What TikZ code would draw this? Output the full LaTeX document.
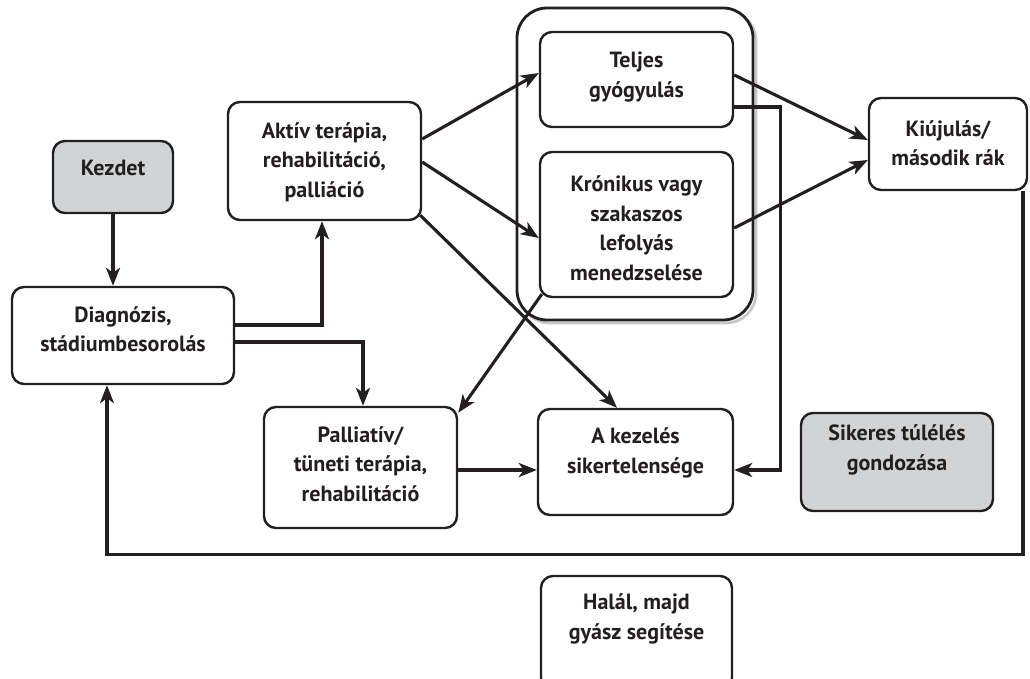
\documentclass[tikz,border=0pt]{standalone}
\usepackage{fontspec}
\setmainfont{PT Sans}
\usetikzlibrary{arrows.meta}
\definecolor{ink}{HTML}{231F20}
\definecolor{boxgrey}{HTML}{D1D3D4}
\begin{document}
\begin{tikzpicture}[x=1pt, y=-1pt,
  box/.style={draw=ink, line width=2.4pt, rounded corners=12pt, fill=white, inner sep=0pt},
  greybox/.style={box, fill=boxgrey},
  txt/.style={align=center, text=ink, inner sep=0pt,
    font=\bfseries\fontsize{22}{29.5}\selectfont},
  conn/.style={draw=ink, line width=3.1pt, line join=miter,
    -{Stealth[length=18pt, width=14pt, inset=5pt]}}]
  \useasboundingbox (0,0) rectangle (1030,679);

  % group frame around the two outcome boxes, with its light shadow
  \draw[black!22, line width=2.8pt, rounded corners=30pt] (520,11) rectangle (756,323);
  \node[draw=ink, fill=white, line width=2.8pt, rounded corners=30pt, minimum width=236pt,
        minimum height=312pt, inner sep=0pt] (group) at (635,164) {};

  % boxes
  \node[greybox, minimum width=120pt, minimum height=72pt]  (kezdet)  at (113,177) {};
  \node[box, minimum width=222pt, minimum height=97pt]      (diag)    at (123,335.5) {};
  \node[box, minimum width=193pt, minimum height=118pt]     (aktiv)   at (324.5,161) {};
  \node[box, minimum width=193pt, minimum height=95pt]      (teljes)  at (636.5,79.5) {};
  \node[box, minimum width=193pt, minimum height=145pt]     (kronik)  at (636.5,224.5) {};
  \node[box, minimum width=158pt, minimum height=92pt]      (kiujul)  at (948,144) {};
  \node[box, minimum width=193pt, minimum height=121pt]     (pallia)  at (360.5,467.5) {};
  \node[box, minimum width=195pt, minimum height=106pt]     (kezel)   at (635.5,462) {};
  \node[greybox, minimum width=192pt, minimum height=98pt]  (sikeres) at (897,462) {};
  \node[box, minimum width=191pt, minimum height=114pt]     (halal)   at (636.5,633) {};

  % texts
  \node[txt] (kezdetT)  at (113,168)   {Kezdet};
  \node[txt] (diagT)    at (123,329)   {Diagnózis,\\stádiumbesorolás};
  \node[txt] (aktivT)   at (324.5,162) {Aktív terápia,\\rehabilitáció,\\palliáció};
  \node[txt] (teljesT)  at (636.5,77)  {Teljes\\gyógyulás};
  \node[txt] (kronikT)  at (636.5,228) {Krónikus vagy\\szakaszos\\lefolyás\\menedzselése};
  \node[txt] (kiujulT)  at (948,143)   {Kiújulás/\\második rák};
  \node[txt] (palliaT)  at (360.5,464) {Palliatív/\\tüneti terápia,\\rehabilitáció};
  \node[txt] (kezelT)   at (635.5,453) {A kezelés\\sikertelensége};
  \node[txt] (sikeresT) at (897,450)   {Sikeres túlélés\\gondozása};
  \node[txt] (halalT)   at (636.5,619) {Halál, majd\\gyász segítése};

  % connectors
  \draw[conn] (kezdet.south) -- (kezdet.south |- diag.north);
  \draw[conn] ([yshift=10.5pt]diag.east) -| ([xshift=-2.5pt]aktiv.south);
  \draw[conn] ([yshift=-6.5pt]diag.east) -| ([xshift=2.5pt]pallia.north);
  \draw[conn] ([yshift=22pt]aktiv.east) -- ([yshift=6.5pt]teljes.west);
  \draw[conn] ([yshift=-1pt]aktiv.east) -- ([yshift=-13.5pt]kronik.west);
  \draw[conn] ([xshift=-2pt,yshift=6pt]aktiv.south east) -- ([xshift=-18.5pt]kezel.north);
  \draw[conn] ([xshift=3pt,yshift=4pt]kronik.south west) -- ([yshift=-7pt]pallia.north east);
  \draw[conn] ([yshift=4.5pt]teljes.east) -- ([yshift=4pt]kiujul.west);
  \draw[conn] ([yshift=-3.5pt]kronik.east) -- ([yshift=-16pt]kiujul.west);
  \draw[conn] ([yshift=-27.5pt]teljes.east) -- ++(46,0) |- ([yshift=-8pt]kezel.east);
  \draw[conn] ([yshift=-8pt]kezel.west -| pallia.east) -- ([yshift=-8pt]kezel.west);
  \draw[conn] ([xshift=75pt]kiujul.south) -- ++(0,363) -| ([xshift=-16pt]diag.south);
\end{tikzpicture}
\end{document}
